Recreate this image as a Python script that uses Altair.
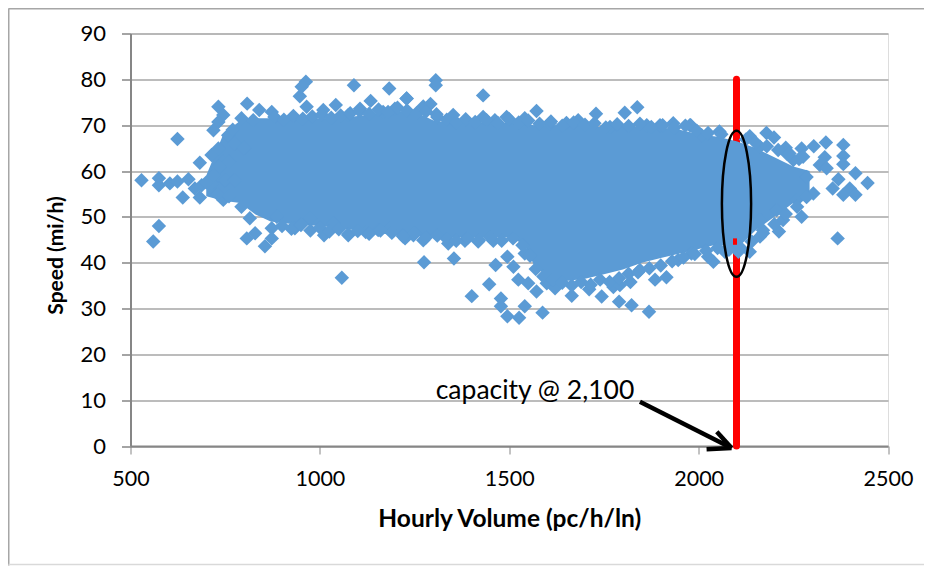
import altair as alt
import pandas as pd

# Outlying and edge diamonds: (hourly volume, speed)
volume = [529,575,575,604,624,653,624,683,638,683,670,688,575,560,719,732,745,732,732,714,745,758,793,808,840,824,873,947,963,952,965,1009,1042,1090,1183,1229,1134,1106,1075,1167,1198,
          714,745,793,815,807,829,855,873,873,886,934,974,1011,1036,1075,1121,1154,1185,1220,1247,1058,
          1306,1306,1229,1273,1292,1308,1352,1431,1431,1493,1462,1541,1572,1607,1651,1682,1729,1766,1805,1838,1863,1898,1933,1979,
          1225,1273,1339,1383,1418,1458,1495,1275,1354,1464,1511,1541,1447,1401,1478,1478,1495,1526,1541,1588,1524,1550,1572,1599,1621,1665,1711,1744,1790,1823,1869,1775,1792,1820,1885,1915,1845,1946,1981,
          1977,2008,2055,2135,2179,2199,2162,2230,2272,2304,2336,2382,2382,2382,2333,2320,2414,2446,2399,2382,2414,2354,2369,2338,2367,2303,2272,2223,2212,2162,2039,2025,2069,2105,2135,2285,2259,2276,2250,2232,2206,2162,2170,
          760,775,750,770,800,720,730,700,760,775,735]
speed = [58.0,58.4,56.9,57.3,57.7,58.2,67.0,61.8,54.2,54.2,56.2,56.9,48.0,44.6,68.9,74.0,72.2,70.7,64.9,63.5,62.0,67.8,71.5,74.7,73.3,71.1,72.9,76.3,79.5,78.4,74.0,73.3,74.4,78.7,78.0,75.8,75.3,73.6,72.2,72.9,73.6,
         57.3,53.7,52.2,49.7,45.3,46.4,43.6,47.5,45.3,50.0,47.5,49.7,46.0,48.6,46.0,46.7,47.1,47.5,45.7,46.0,36.7,
         79.8,78.7,75.8,74.1,74.6,72.4,72.2,76.5,71.8,71.8,71.1,71.5,73.1,70.4,70.5,71.1,72.5,69.6,72.7,73.9,70.0,70.0,70.4,70.0,
         45.3,44.9,44.2,44.8,44.6,44.8,41.3,40.1,40.9,39.5,39.1,42.0,35.3,32.7,32.2,30.5,28.3,28.0,30.5,29.1,36.3,35.5,33.7,35.5,34.4,32.8,34.2,32.6,31.5,30.7,29.3,34.7,35.1,35.8,36.3,36.8,38.4,40.6,42.0,
         70.0,67.8,68.6,67.6,68.3,67.3,65.3,65.1,64.9,65.4,66.2,65.7,63.3,61.5,63.0,61.3,59.5,57.4,56.2,54.8,54.8,56.2,58.2,60.6,45.3,55.1,50.0,49.3,46.8,45.7,40.2,41.3,42.4,42.4,42.4,58.7,53.7,63.1,62.4,63.8,51.5,49.3,47.1,
         62,66,58,69,65,59,55,57.5,54.5,58,61]

# Diamonds along the upper edge of the cloud
top_volume = [880,905,930,955,980,1005,1030,1055,1080,1105,1130,1155,1180,1205,1230,1255,1280,1310,1335,1360,1385,1410,1440,1470,1500,1525,1550,1580,1610,1640,1670,1700,1725,1755,1785,1815,1845,1875,1905,1935,1965,1995,2025,2060,2125,2150,2180,2210,2240,2265]
top_speed = [71.8,71.2,72.0,71.4,71.9,72.3,71.6,72.1,72.6,73.1,72.5,73.4,72.9,73.8,73.2,72.6,73.0,71.8,71.2,70.6,71.3,70.7,71.1,70.5,71.3,70.6,71.0,70.3,70.8,69.9,70.6,70.1,70.4,69.5,70.2,69.8,70.3,69.6,70.0,69.4,69.9,68.8,68.3,68.0,66.9,66.2,65.4,64.6,63.8,62.6]

# Diamonds along the lower edge of the cloud
bottom_volume = [900,925,950,975,1000,1025,1050,1075,1100,1130,1160,1190,1220,1250,1280,1310,1335,1360,1390,1420,1450,1480,1510,1535,1555,1570,1590,1615,1640,1665,1690,1715,1740,1765,1790,1815,1840,1870,1900,1930,1960,1990,2020,2050,2080,2110,2140,2170,2200,2230,2260,2285]
bottom_speed = [48.0,47.4,48.2,47.0,47.6,46.8,47.3,46.2,46.9,46.3,47.0,46.5,45.9,46.4,45.5,45.9,45.2,44.8,45.4,44.9,45.5,44.8,45.3,43.8,41.5,38.6,37.0,36.2,35.6,35.0,35.8,35.2,36.3,35.8,36.6,37.6,37.9,38.8,39.4,40.3,41.1,41.9,42.6,43.2,42.8,43.3,44.6,46.4,48.4,50.6,52.2,54.3]

# Envelope of the solid core of the cloud
core_volume = [700,745,790,830,870,920,1000,1050,1100,1200,1250,1300,1350,1400,1450,1500,1540,1565,1600,1650,1700,1750,1800,1850,1900,1950,2000,2050,2100,2150,2200,2250,2293]
core_low = [54.5,53.5,53,50.5,49,48.5,48,47.5,47,46,46,45.5,45.5,45.5,45.5,45.5,44,39.5,37,36,36.5,37.5,38.5,40,41,42,43,44,43,47,50,53,55]
core_high = [59,68,71,71.5,71.5,71.5,71.5,71.5,72,73,73,71,70.5,70.5,70.5,70.5,70.5,70,70,70,70,69.5,70,69.5,69.5,69,68,67.5,66.5,65,63,61,60]

capacity_volume = [2100, 2100]
capacity_speed = [0, 80]
gap_volume = [2096]
gap_low = [43.9]
gap_high = [45.3]
arrow_x = [1845, 2048, 2021]
arrow_x2 = [2087, 2087, 2087]
arrow_y = [9.66, 3.1, -0.7]
arrow_y2 = [-0.44, -0.44, -0.44]

BLUE = "#5B9BD5"
FONT = "Lato"
x_scale = alt.Scale(domain=[500, 2500], nice=False)
y_scale = alt.Scale(domain=[0, 90], nice=False)

base_x = alt.X("v:Q", scale=x_scale, title="Hourly Volume (pc/h/ln)",
               axis=alt.Axis(values=[500, 1000, 1500, 2000, 2500], grid=False, format="d", labelFlush=False,
                             labelFont=FONT, labelFontSize=21.5, labelColor="#000000", labelPadding=14,
                             titleFont=FONT, titleFontSize=24.5, titleFontWeight="bold", titleColor="#000000", titlePadding=18,
                             domainColor="#868686", domainWidth=2, tickColor="#868686", tickWidth=1, tickSize=8))
base_y = alt.Y("s:Q", scale=y_scale, title="Speed (mi/h)",
               axis=alt.Axis(values=list(range(0, 100, 10)), grid=True, gridColor="#A6A6A6", gridWidth=1.5,
                             labelFont=FONT, labelFontSize=22, labelColor="#000000", labelPadding=16,
                             titleFont=FONT, titleFontSize=21, titleFontWeight="bold", titleColor="#000000", titlePadding=13,
                             titleY=221.5,
                             domainColor="#868686", domainWidth=2, tickColor="#868686", tickWidth=1.5, tickSize=9))

one = pd.DataFrame({"a": [0]})
frame_left = alt.Chart(one).mark_rule(color="#A6A6A6", strokeWidth=1.5).encode(
    x=alt.value(-121.75), y=alt.value(-25), y2=alt.value(532))
frame_top = alt.Chart(one).mark_rule(color="#A6A6A6", strokeWidth=1.5).encode(
    x=alt.value(-122), x2=alt.value(800), y=alt.value(-24.75))
frame_bottom = alt.Chart(one).mark_rule(color="#D9D9D9", strokeWidth=1.5).encode(
    x=alt.value(-122), x2=alt.value(800), y=alt.value(531))

axes = alt.Chart(pd.DataFrame({"v": volume, "s": speed})).mark_point(opacity=0).encode(x=base_x, y=base_y)

red = alt.Chart(pd.DataFrame({"v": capacity_volume, "s": capacity_speed})).mark_line(
    color="#FF0000", strokeWidth=7, strokeCap="round").encode(
    x=alt.X("v:Q", scale=x_scale), y=alt.Y("s:Q", scale=y_scale))

core = alt.Chart(pd.DataFrame({"v": core_volume, "lo": core_low, "hi": core_high})).mark_area(color=BLUE, opacity=1).encode(
    x=alt.X("v:Q", scale=x_scale), y=alt.Y("lo:Q", scale=y_scale), y2="hi:Q")

dots = alt.Chart(pd.DataFrame({"v": volume + top_volume + bottom_volume,
                               "s": speed + top_speed + bottom_speed})).mark_point(
    shape="diamond", filled=True, color=BLUE, opacity=1, size=210).encode(
    x=alt.X("v:Q", scale=x_scale), y=alt.Y("s:Q", scale=y_scale))

gap = alt.Chart(pd.DataFrame({"v": gap_volume, "lo": gap_low, "hi": gap_high})).mark_rule(
    color="#FF0000", strokeWidth=4).encode(
    x=alt.X("v:Q", scale=x_scale), y=alt.Y("lo:Q", scale=y_scale), y2="hi:Q")

ellipse = alt.Chart(pd.DataFrame({"v": [2100], "s": [52.85]})).mark_point(
    shape="M0,-1A0.2,1 0 1,1 0,1A0.2,1 0 1,1 0,-1", size=21316, filled=False,
    stroke="#000000", strokeWidth=2.5, opacity=1).encode(
    x=alt.X("v:Q", scale=x_scale), y=alt.Y("s:Q", scale=y_scale))

arrow = alt.Chart(pd.DataFrame({"v": arrow_x, "v2": arrow_x2, "s": arrow_y, "s2": arrow_y2})).mark_rule(
    color="#000000", strokeWidth=4.5).encode(
    x=alt.X("v:Q", scale=x_scale), x2="v2:Q", y=alt.Y("s:Q", scale=y_scale), y2="s2:Q")

label = alt.Chart(pd.DataFrame({"v": [1568], "s": [11.9], "t": ["capacity @ 2,100"]})).mark_text(
    font=FONT, fontSize=26.5, color="#000000", align="center", baseline="middle").encode(
    x=alt.X("v:Q", scale=x_scale), y=alt.Y("s:Q", scale=y_scale), text="t:N")

chart = alt.layer(frame_left, frame_top, frame_bottom, axes, red, core, dots, gap, ellipse, arrow, label).properties(
    width=757.5, height=412.5,
    padding={"left": 122.5, "top": 25.5, "right": 36, "bottom": 119.5},
    autosize=alt.AutoSizeParams(type="none"),
).configure_view(stroke=None).configure(background="#FFFFFF")

chart.save("out.html", embed_options={"renderer": "svg", "actions": False})
